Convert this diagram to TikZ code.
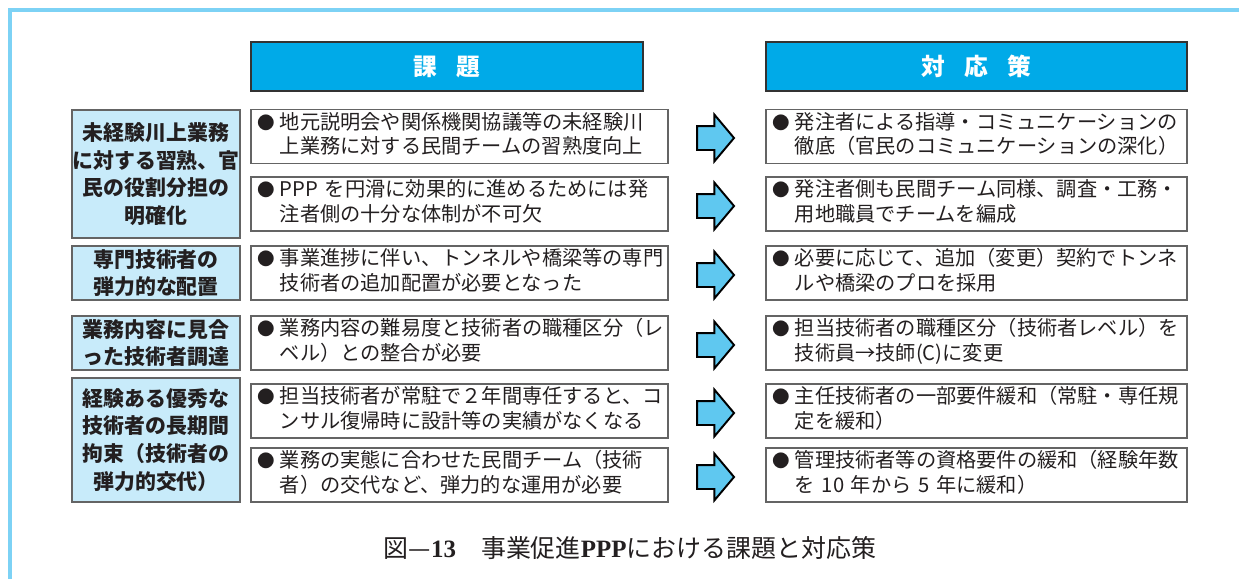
\documentclass[tikz,border=0pt]{standalone}
\usepackage{fontspec}
\setmainfont{Noto Sans CJK JP}
\newfontfamily\capserif{Liberation Serif}
\usetikzlibrary{shapes.arrows}

\definecolor{framecol}{RGB}{125,210,245}
\definecolor{headcol}{RGB}{0,170,232}
\definecolor{catcol}{RGB}{200,235,250}
\definecolor{arrcol}{RGB}{95,200,240}
\definecolor{ink}{RGB}{35,31,32}
\definecolor{boxline}{RGB}{100,100,100}

\newcommand{\bitem}[2]{\begin{tabular}{@{}l@{\hspace{3pt}}l@{}}{\fontsize{10}{10}\selectfont ●}&#1\\&#2\end{tabular}}

\tikzset{
  head/.style={draw=black!80, fill=headcol, text=white, font=\fontsize{13.5}{16}\selectfont\bfseries, minimum height=0.98cm, line width=0.8pt},
  cat/.style={draw=boxline, fill=catcol, text=ink, font=\fontsize{11.9}{15.8}\selectfont\bfseries, align=center, minimum width=3.36cm, line width=0.8pt, inner sep=0pt},
  issue/.style={draw=boxline, text=ink, font=\fontsize{11.5}{14.2}\selectfont, minimum height=1.08cm, text width=8.1cm, align=left, inner xsep=0.12cm, inner ysep=0pt, line width=0.8pt},
  measure/.style={issue, text width=8.18cm},
  blockarr/.style={single arrow, draw=black, fill=arrcol, line width=1.1pt, minimum height=0.74cm, minimum width=0.9cm, single arrow head extend=0.23cm, single arrow tip angle=100, inner xsep=0pt, inner ysep=0.22cm},
}

\begin{document}
\begin{tikzpicture}[x=0.02cm, y=-0.02cm]
    \useasboundingbox (0,0) rectangle (1239,579);
    \draw [framecol, line width=0.08cm] (10,579) -- (10,10) -- (1239,10);

    % headers
    \node [head, minimum width=7.84cm] (hissue) at (447,66.5) {課\hspace{0.8em}題};
    \node [head, minimum width=8.42cm] (hmeasure) at (976.5,66.5) {対\hspace{0.8em}応\hspace{0.8em}策};

    % categories
    \node [cat, minimum height=2.56cm] (c1) at (156,174) {未経験川上業務\\に対する習熟、官\\民の役割分担の\\明確化};
    \node [cat, minimum height=1.08cm] (c2) at (156,273) {専門技術者の\\弾力的な配置};
    \node [cat, minimum height=1.08cm] (c3) at (156,343) {業務内容に見合\\った技術者調達};
    \node [cat, minimum height=2.48cm] (c4) at (156,440) {経験ある優秀な\\技術者の長期間\\拘束（技術者の\\弾力的交代）};

    % issues
    \node [issue] (i1) at (459.5,136.5) {\bitem{地元説明会や関係機関協議等の未経験川}{上業務に対する民間チームの習熟度向上}};
    \node [issue] (i2) at (459.5,204) {\bitem{PPP を円滑に効果的に進めるためには発}{注者側の十分な体制が不可欠}};
    \node [issue] (i3) at (459.5,273) {\bitem{事業進捗に伴い、トンネルや橋梁等の専門}{技術者の追加配置が必要となった}};
    \node [issue] (i4) at (459.5,343) {\bitem{業務内容の難易度と技術者の職種区分（レ}{ベル）との整合が必要}};
    \node [issue] (i5) at (459.5,411) {\bitem{担当技術者が常駐で２年間専任すると、コ}{ンサル復帰時に設計等の実績がなくなる}};
    \node [issue] (i6) at (459.5,475) {\bitem{業務の実態に合わせた民間チーム（技術}{者）の交代など、弾力的な運用が必要}};

    % arrows
    \node [blockarr] (a1) at (710.5,138) {};
    \node [blockarr] (a2) at (710.5,206) {};
    \node [blockarr] (a3) at (710.5,275) {};
    \node [blockarr] (a4) at (710.5,345) {};
    \node [blockarr] (a5) at (710.5,413) {};
    \node [blockarr] (a6) at (710.5,477) {};

    % measures
    \node [measure] (m1) at (976.5,136.5) {\bitem{発注者による指導・コミュニケーションの}{徹底（官民のコミュニケーションの深化）}};
    \node [measure] (m2) at (976.5,204) {\bitem{発注者側も民間チーム同様、調査・工務・}{用地職員でチームを編成}};
    \node [measure] (m3) at (976.5,273) {\bitem{必要に応じて、追加（変更）契約でトンネ}{ルや橋梁のプロを採用}};
    \node [measure] (m4) at (976.5,343) {\bitem{担当技術者の職種区分（技術者レベル）を}{技術員→技師(C)に変更}};
    \node [measure] (m5) at (976.5,411) {\bitem{主任技術者の一部要件緩和（常駐・専任規}{定を緩和）}};
    \node [measure] (m6) at (976.5,475) {\bitem{管理技術者等の資格要件の緩和（経験年数}{を 10 年から 5 年に緩和）}};

    \node [text=ink, font=\fontsize{14.2}{16}\selectfont] (caption) at (630,548) {図—{\capserif\bfseries 13}　事業促進{\capserif\bfseries PPP}における課題と対応策};
\end{tikzpicture}
\end{document}
